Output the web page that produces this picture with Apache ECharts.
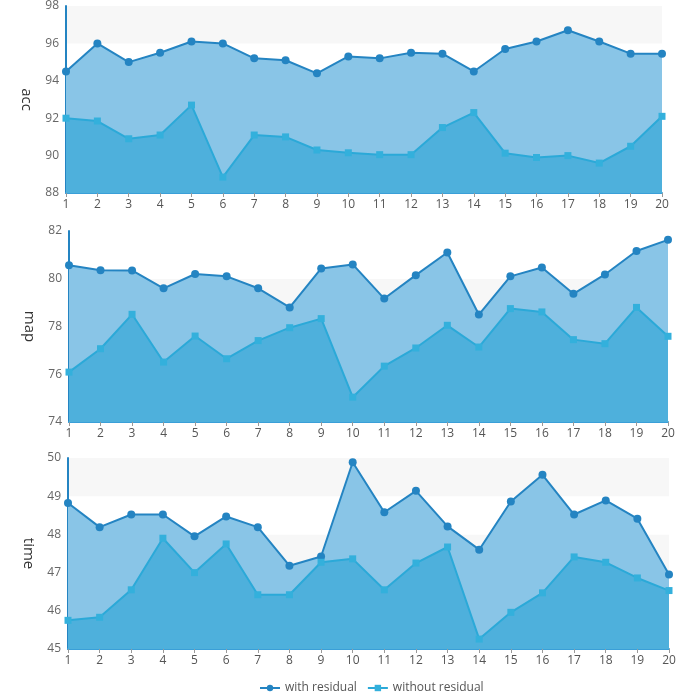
<!DOCTYPE html>
<html>
<head>
<meta charset="utf-8">
<script src="https://cdn.jsdelivr.net/npm/echarts@6/dist/echarts.min.js"></script>
<style>html,body{margin:0;padding:0;background:#fff;}#c{width:700px;height:694px;}</style>
</head>
<body>
<div id="c"></div>
<script>
const categories = ['1','2','3','4','5','6','7','8','9','10','11','12','13','14','15','16','17','18','19','20'];
const seriesNames = ['with residual', 'without residual'];
const metricNames = ['acc', 'map', 'time'];

const accWith    = [94.5, 96.0, 95.0, 95.5, 96.1, 96.0, 95.2, 95.1, 94.4, 95.3, 95.2, 95.5, 95.45, 94.5, 95.7, 96.1, 96.7, 96.1, 95.45, 95.45];
const accWithout = [92.0, 91.85, 90.9, 91.1, 92.7, 88.85, 91.1, 91.0, 90.3, 90.15, 90.05, 90.05, 91.5, 92.3, 90.13, 89.9, 90.0, 89.6, 90.5, 92.1];
const mapWith    = [80.57, 80.36, 80.35, 79.6, 80.2, 80.1, 79.6, 78.8, 80.43, 80.6, 79.17, 80.15, 81.1, 78.5, 80.1, 80.47, 79.37, 80.18, 81.16, 81.63];
const mapWithout = [76.09, 77.07, 78.51, 76.51, 77.6, 76.65, 77.41, 77.95, 78.33, 75.04, 76.34, 77.1, 78.05, 77.14, 78.75, 78.61, 77.45, 77.28, 78.8, 77.59];
const timeWith    = [48.82, 48.19, 48.52, 48.52, 47.95, 48.47, 48.19, 47.18, 47.42, 49.89, 48.58, 49.14, 48.21, 47.6, 48.86, 49.56, 48.52, 48.89, 48.41, 46.95];
const timeWithout = [45.75, 45.83, 46.55, 47.9, 47.0, 47.75, 46.42, 46.42, 47.27, 47.36, 46.55, 47.25, 47.67, 45.26, 45.96, 46.47, 47.41, 47.27, 46.86, 46.53];

const yMins = [88, 74, 45];
const yMaxs = [98, 82, 50];
const yIntervals = [2, 2, 1];
const withData = [accWith, mapWith, timeWith];
const withoutData = [accWithout, mapWithout, timeWithout];

const grids = [
  {left: 66, right: 38, top: 5, height: 188},
  {left: 69, right: 32, top: 231, height: 191},
  {left: 68, right: 31, top: 458, height: 191}
];

const FONT = 'Open Sans';
const lineWith = '#2484c2';
const lineWithout = '#2ba9d8';
const areaWith = '#89c5e7';
const areaWithout = '#4eb0dc';

const xAxes = [], yAxes = [], series = [];
for (let i = 0; i < 3; i++) {
  xAxes.push({
    type: 'category', gridIndex: i, data: categories, boundaryGap: false,
    axisLine: {lineStyle: {color: '#3a9fd8', width: 2}},
    axisTick: {show: true, lineStyle: {color: '#999'}, length: 4},
    axisLabel: {color: '#555', fontSize: 12, fontFamily: FONT, margin: 6},
    splitLine: {show: false}
  });
  yAxes.push({
    type: 'value', gridIndex: i, min: yMins[i], max: yMaxs[i], interval: yIntervals[i],
    name: metricNames[i], nameLocation: 'middle', nameRotate: -90, nameGap: 32,
    nameTextStyle: {color: '#333', fontSize: 15, fontFamily: FONT},
    axisLine: {show: true, lineStyle: {color: '#2484c2', width: 2}},
    axisTick: {show: false},
    axisLabel: {color: '#666', fontSize: 12, fontFamily: FONT, margin: 7},
    splitLine: {show: false},
    splitArea: {show: true, areaStyle: {color: ['#f7f7f7', '#ffffff']}}
  });
  series.push({
    name: seriesNames[0], type: 'line', xAxisIndex: i, yAxisIndex: i,
    data: withData[i], symbol: 'circle', symbolSize: 8,
    lineStyle: {color: lineWith, width: 2},
    itemStyle: {color: lineWith},
    areaStyle: {color: areaWith, opacity: 1, origin: 'start'},
    z: 2
  });
  series.push({
    name: seriesNames[1], type: 'line', xAxisIndex: i, yAxisIndex: i,
    data: withoutData[i], symbol: 'rect', symbolSize: 7,
    lineStyle: {color: lineWithout, width: 2},
    itemStyle: {color: '#33b0dc'},
    areaStyle: {color: areaWithout, opacity: 1, origin: 'start'},
    z: 3
  });
}

const chart = echarts.init(document.getElementById('c'));
chart.setOption({
  animation: false,
  backgroundColor: '#fff',
  grid: grids,
  xAxis: xAxes,
  yAxis: yAxes,
  legend: {
    top: 677, left: 254, itemWidth: 20, itemHeight: 8, itemGap: 10,
    textStyle: {color: '#555', fontSize: 12, fontFamily: FONT},
    data: seriesNames
  },
  series: series
});
</script>
</body>
</html>
